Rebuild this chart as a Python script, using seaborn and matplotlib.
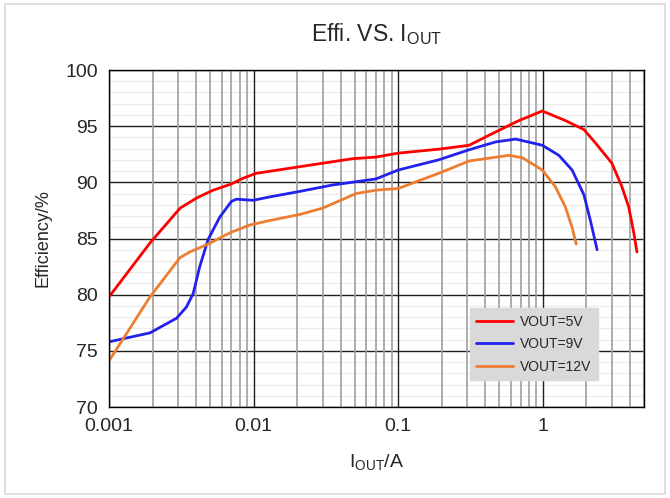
import numpy as np
import pandas as pd
import seaborn as sns
import matplotlib.pyplot as plt
from matplotlib.ticker import FixedLocator, FixedFormatter, NullFormatter
from matplotlib.patches import Rectangle

# Values
iout_5v = [0.001, 0.00192, 0.0031, 0.00403, 0.00524, 0.0070, 0.0084, 0.0104, 0.021, 0.03,
           0.048, 0.07, 0.1, 0.19, 0.309, 0.425, 0.683, 0.99, 1.43, 1.92, 2.31, 3.0,
           3.52, 3.92, 4.25, 4.47]
eff_5v = [79.8, 84.6, 87.7, 88.6, 89.3, 89.85, 90.35, 90.8, 91.4, 91.7,
          92.1, 92.25, 92.6, 92.95, 93.3, 94.2, 95.5, 96.35, 95.5, 94.7, 93.5, 91.7,
          89.6, 87.8, 85.5, 83.8]

iout_9v = [0.001, 0.00192, 0.00293, 0.00343, 0.00382, 0.00424, 0.00484, 0.00583, 0.00702,
           0.0076, 0.0099, 0.0129, 0.021, 0.035, 0.07, 0.1, 0.19, 0.309, 0.472, 0.649,
           0.99, 1.29, 1.59, 1.92, 2.13, 2.37]
eff_9v = [75.8, 76.6, 77.9, 78.9, 80.1, 82.5, 84.9, 86.9, 88.3,
          88.5, 88.4, 88.7, 89.2, 89.76, 90.3, 91.1, 92.0, 92.9, 93.6, 93.85,
          93.3, 92.4, 91.1, 88.9, 86.6, 84.0]

iout_12v = [0.001, 0.00192, 0.0031, 0.00362, 0.00484, 0.00683, 0.0094, 0.0129, 0.021, 0.03,
            0.051, 0.07, 0.1, 0.19, 0.309, 0.58, 0.72, 0.99, 1.22, 1.43, 1.59, 1.70]
eff_12v = [74.1, 79.8, 83.3, 83.8, 84.5, 85.5, 86.2, 86.6, 87.15, 87.7,
           89.0, 89.3, 89.45, 90.8, 91.9, 92.4, 92.2, 91.1, 89.6, 87.8, 86.0, 84.5]

labels = ["VOUT=5V", "VOUT=9V", "VOUT=12V"]
colors = ["#ff0000", "#2222ee", "#ed7d31"]

frames = []
for lab, xs, ys in zip(labels, [iout_5v, iout_9v, iout_12v], [eff_5v, eff_9v, eff_12v]):
    frames.append(pd.DataFrame({"Iout": xs, "Eff": ys, "series": lab}))
df = pd.concat(frames, ignore_index=True)

sns.set_style("white")
plt.rcParams['font.family'] = ['Liberation Sans', 'DejaVu Sans']
plt.rcParams['mathtext.default'] = 'regular'
plt.rcParams['lines.solid_joinstyle'] = 'round'

fig = plt.figure(figsize=(6.7, 4.98), dpi=100)
ax = fig.add_axes([109 / 670, 1 - 407 / 498, 535 / 670, 337 / 498])

sns.lineplot(data=df, x="Iout", y="Eff", hue="series", hue_order=labels,
             palette=colors, sort=False, estimator=None, linewidth=2.0, ax=ax)

ax.set_xscale("log")
ax.set_xlim(0.001, 5)
ax.set_ylim(70, 100)

# grid
ax.xaxis.set_major_locator(FixedLocator([0.001, 0.01, 0.1, 1]))
ax.xaxis.set_major_formatter(FixedFormatter(["0.001", "0.01", "0.1", "1"]))
minor_x = [m * d for d in [0.001, 0.01, 0.1, 1] for m in range(2, 10) if m * d <= 5]
ax.xaxis.set_minor_locator(FixedLocator(minor_x))
ax.xaxis.set_minor_formatter(NullFormatter())
ax.yaxis.set_major_locator(FixedLocator(list(range(70, 101, 5))))
ax.yaxis.set_minor_locator(FixedLocator(list(range(70, 101))))

ax.grid(which="major", axis="both", color="#202020", linewidth=1.0)
ax.grid(which="minor", axis="x", color="#a0a0a0", linewidth=1.2)
ax.grid(which="minor", axis="y", color="#ebebeb", linewidth=0.8)
ax.set_axisbelow(True)
# vertical lines drawn over the faint horizontal ones
ax.yaxis.set_zorder(0.3)
ax.xaxis.set_zorder(0.4)

for s in ax.spines.values():
    s.set_color("#000000")
    s.set_linewidth(1.0)

ax.tick_params(axis="x", which="both", direction="in", length=4, color="#000000",
               labelsize=14, pad=8)
ax.tick_params(axis="y", which="both", length=0, labelsize=14, pad=8)

ax.set_xlabel("I$_{OUT}$/A", fontsize=14, labelpad=12)
ax.set_ylabel("Efficiency/%", fontsize=13, labelpad=10)
ax.set_title("Effi. VS. I$_{OUT}$", fontsize=16.5, pad=21)

leg = ax.legend(loc="lower right", bbox_to_anchor=(0.914, 0.08), fontsize=10,
                frameon=True, fancybox=False, handlelength=2.7, labelspacing=0.62,
                borderpad=0.45, handletextpad=0.5, borderaxespad=0)
leg.get_frame().set_facecolor("#d9d9d9")
leg.get_frame().set_edgecolor("#d9d9d9")
leg.get_frame().set_alpha(1)
for line in leg.get_lines():
    line.set_linewidth(2.0)

fig.patches.append(Rectangle((5 / 670, 4 / 498), 660 / 670, 490 / 498,
                             transform=fig.transFigure, fill=False,
                             edgecolor="#d9d9d9", linewidth=1.2))

fig.savefig("out.png", dpi=100)
